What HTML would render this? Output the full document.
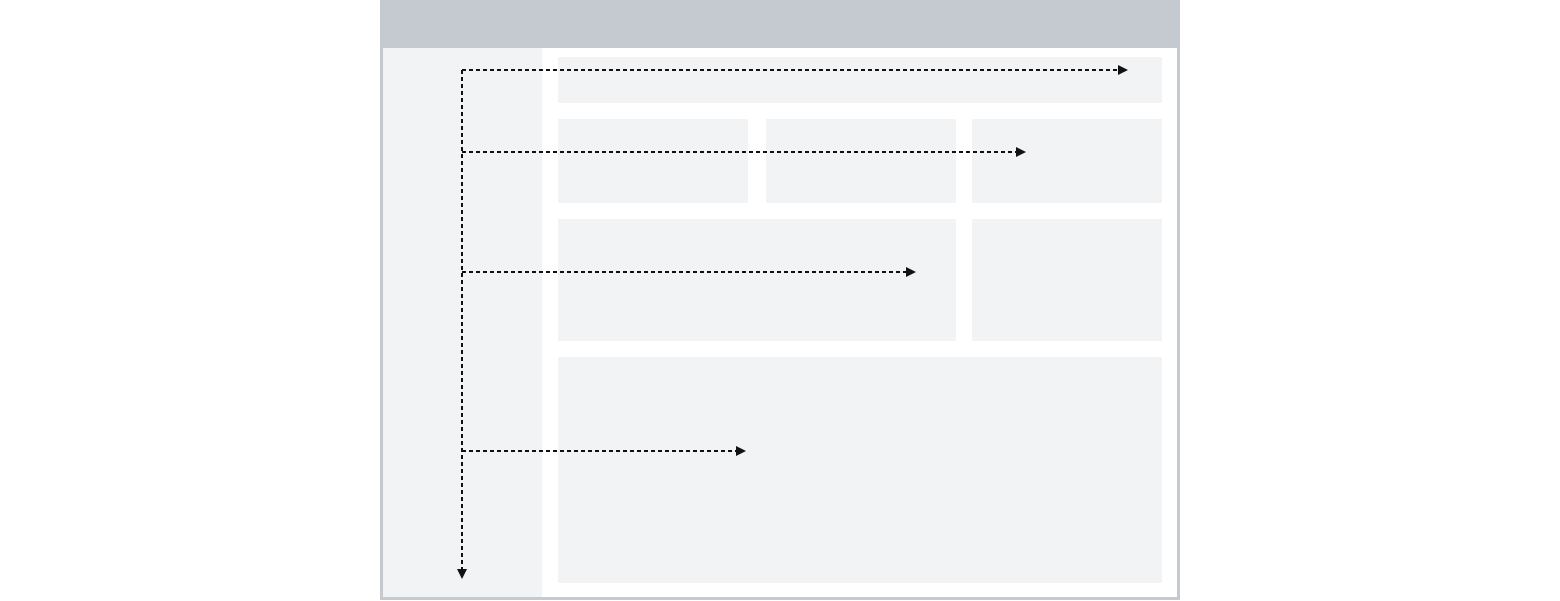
<!DOCTYPE html>
<html><head><meta charset="utf-8"><style>
html,body{margin:0;padding:0;background:#fff;width:1560px;height:601px;overflow:hidden;font-family:"Liberation Sans",sans-serif}
.abs{position:absolute}
.panel{position:absolute;background:#f2f3f5}
</style></head><body>
<div class="abs" style="left:380px;top:0;width:794px;height:597px;border:3px solid #c5c9d0;border-top:0;background:#fff"></div>
<div class="abs" style="left:380px;top:0;width:800px;height:48px;background:#c5c9d0"></div>
<div class="abs" style="left:383px;top:48px;width:159px;height:549px;background:#f2f3f5"></div>
<div class="panel" style="left:558px;top:57px;width:604px;height:46px"></div>
<div class="panel" style="left:558px;top:119px;width:190px;height:84px"></div>
<div class="panel" style="left:766px;top:119px;width:190px;height:84px"></div>
<div class="panel" style="left:972px;top:119px;width:190px;height:84px"></div>
<div class="panel" style="left:558px;top:219px;width:398px;height:122px"></div>
<div class="panel" style="left:972px;top:219px;width:190px;height:122px"></div>
<div class="panel" style="left:558px;top:357px;width:604px;height:226px"></div>
<svg class="abs" style="left:0;top:0" width="1560" height="601">
<g stroke="#111" stroke-width="2" stroke-dasharray="4 3" fill="none">
<line x1="462" y1="70" x2="462" y2="570"/>
<line x1="462" y1="70" x2="1119" y2="70"/>
<line x1="462" y1="152" x2="1017" y2="152"/>
<line x1="462" y1="272" x2="907" y2="272"/>
<line x1="462" y1="451" x2="737" y2="451"/>
</g>
<g fill="#111">
<polygon points="1118,65 1128,70 1118,75"/>
<polygon points="1016,147 1026,152 1016,157"/>
<polygon points="906,267 916,272 906,277"/>
<polygon points="736,446 746,451 736,456"/>
<polygon points="457,569 467,569 462,579"/>
</g>
</svg>
</body></html>
